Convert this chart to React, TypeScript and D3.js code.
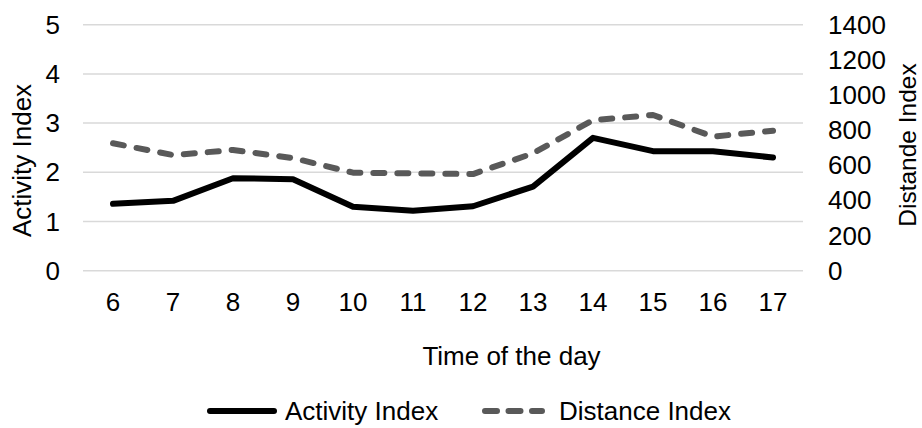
import React from "react";
import * as d3 from "d3";

const hours = ["6", "7", "8", "9", "10", "11", "12", "13", "14", "15", "16", "17"];
const activityIndex = [1.36, 1.42, 1.88, 1.86, 1.3, 1.22, 1.31, 1.71, 2.7, 2.43, 2.43, 2.3];
const distanceIndex = [725, 658, 687, 641, 558, 554, 550, 668, 857, 886, 763, 797];
const leftTicks = [0, 1, 2, 3, 4, 5];
const rightTicks = [0, 200, 400, 600, 800, 1000, 1200, 1400];

const W = 922;
const H = 428;
const plot = { left: 83, right: 803, top: 24.7, bottom: 270.7 };
const FONT = "'Liberation Sans', Arial, sans-serif";
const FS = 26;

export default function App() {
  const x = d3.scaleBand<string>().domain(hours).range([plot.left, plot.right]);
  const yL = d3.scaleLinear().domain([0, 5]).range([plot.bottom, plot.top]);
  const yR = d3.scaleLinear().domain([0, 1400]).range([plot.bottom, plot.top]);
  const cx = (h: string) => (x(h) ?? 0) + x.bandwidth() / 2;

  const activityLine = d3
    .line<number>()
    .x((_, i) => cx(hours[i]))
    .y((d) => yL(d));
  const distanceLine = d3
    .line<number>()
    .x((_, i) => cx(hours[i]))
    .y((d) => yR(d));

  return (
    <svg
      width={W}
      height={H}
      style={{ position: "absolute", left: 0, top: 0, background: "#fff" }}
      fontFamily={FONT}
    >
      {leftTicks.map((t) => (
        <line
          key={"g" + t}
          x1={plot.left}
          x2={plot.right}
          y1={yL(t)}
          y2={yL(t)}
          stroke="#d9d9d9"
          strokeWidth={1.5}
        />
      ))}
      {leftTicks.map((t) => (
        <text
          key={"l" + t}
          x={60}
          y={yL(t)}
          textAnchor="end"
          dominantBaseline="central"
          fontSize={FS}
          fill="#000"
        >
          {t}
        </text>
      ))}
      {rightTicks.map((t) => (
        <text
          key={"r" + t}
          x={828}
          y={yR(t)}
          textAnchor="start"
          dominantBaseline="central"
          fontSize={FS}
          fill="#000"
        >
          {t}
        </text>
      ))}
      {hours.map((h) => (
        <text
          key={"x" + h}
          x={cx(h)}
          y={302}
          textAnchor="middle"
          dominantBaseline="central"
          fontSize={FS}
          fill="#000"
        >
          {h}
        </text>
      ))}
      <path
        d={distanceLine(distanceIndex) ?? ""}
        fill="none"
        stroke="#595959"
        strokeWidth={6}
        strokeDasharray="11 13"
        strokeLinecap="round"
        strokeLinejoin="round"
      />
      <path
        d={activityLine(activityIndex) ?? ""}
        fill="none"
        stroke="#000"
        strokeWidth={6}
        strokeLinecap="round"
        strokeLinejoin="round"
      />
      <text
        transform={`translate(22,160.5) rotate(-90)`}
        textAnchor="middle"
        dominantBaseline="central"
        fontSize={FS}
        fill="#000"
      >
        Activity Index
      </text>
      <text
        transform={`translate(907,145) rotate(-90)`}
        textAnchor="middle"
        dominantBaseline="central"
        fontSize={24.5}
        fill="#000"
      >
        Distande Index
      </text>
      <text x={511.5} y={356} textAnchor="middle" dominantBaseline="central" fontSize={FS} fill="#000">
        Time of the day
      </text>
      <line x1={210} x2={274} y1={411} y2={411} stroke="#000" strokeWidth={6} strokeLinecap="round" />
      <text x={285} y={411} dominantBaseline="central" fontSize={FS} fill="#000">
        Activity Index
      </text>
      <line
        x1={485}
        x2={542}
        y1={411}
        y2={411}
        stroke="#595959"
        strokeWidth={6}
        strokeDasharray="12 11.5"
        strokeLinecap="round"
      />
      <text x={559} y={411} dominantBaseline="central" fontSize={FS} fill="#000">
        Distance Index
      </text>
    </svg>
  );
}
